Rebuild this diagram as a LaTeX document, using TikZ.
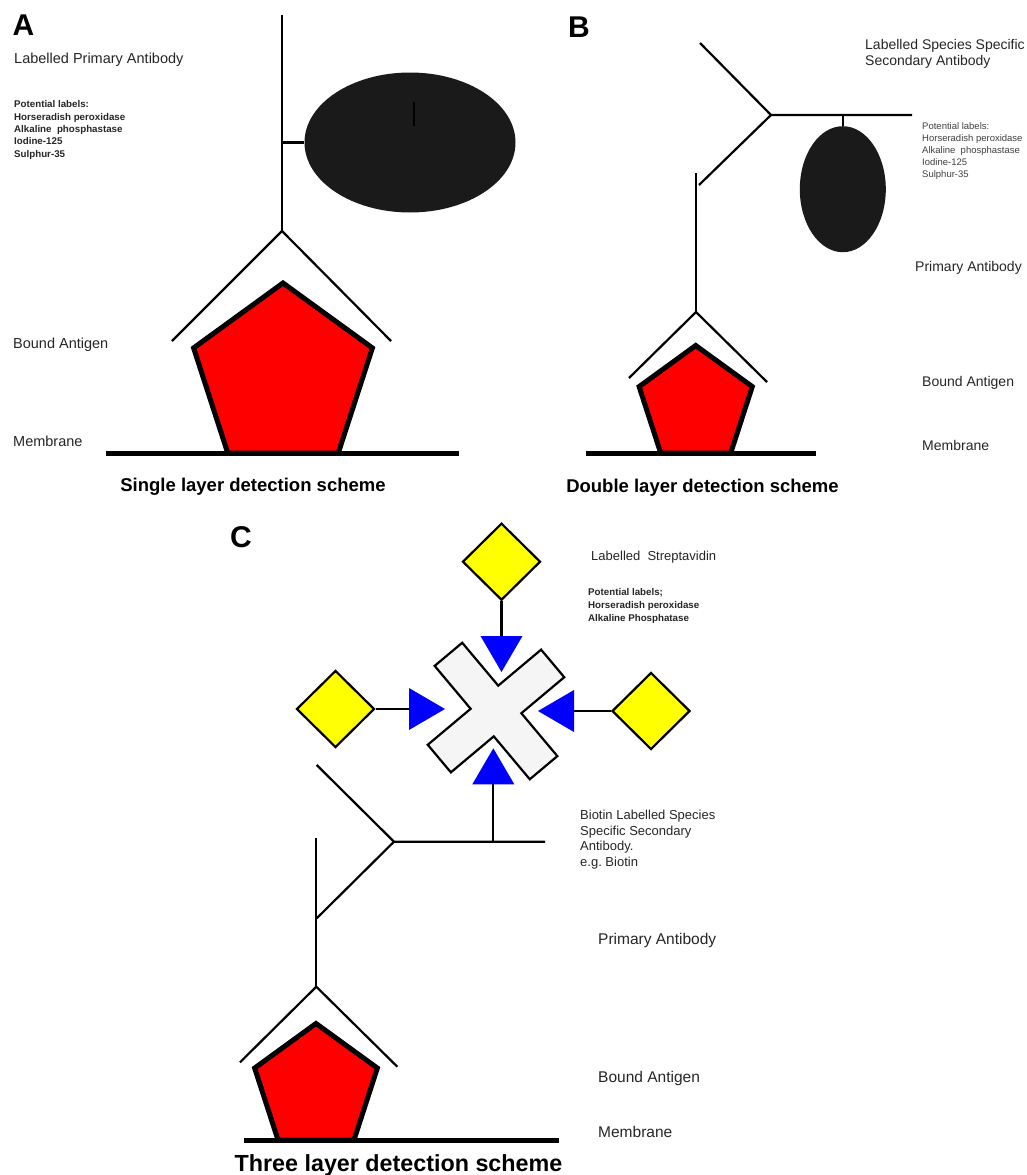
\documentclass[tikz,border=0pt]{standalone}
\usepackage{fontspec}
\setmainfont{Liberation Sans}
\usepackage{tikz}
\usetikzlibrary{arrows.meta,shapes.geometric,calc}
\definecolor{enzyme}{HTML}{1A1A1A}
\definecolor{antigenred}{HTML}{FF0000}
\definecolor{tagyellow}{HTML}{FFFF00}
\definecolor{avidin}{HTML}{F5F5F5}
\newcommand{\fsz}[2]{\fontsize{#1}{#2}\selectfont}

\begin{document}
\begin{tikzpicture}[x=1pt,y=-1pt,
	ab/.style={line width=2.2pt},
	membrane/.style={line width=5pt},
	antigen/.style={regular polygon,regular polygon sides=5,draw,line width=5pt,fill=antigenred,inner sep=0pt},
	enz/.style={ellipse,fill=enzyme,inner sep=0pt},
	tag/.style={diamond,draw,line width=2.2pt,fill=tagyellow,inner sep=0pt,minimum width=78pt,minimum height=77pt},
	bind/.style={ab,-{Triangle[width=42pt,length=36pt,line width=0pt,color=blue,fill=blue]}},
	lbl/.style={anchor=base west,inner sep=0pt,text=black!85},
	multi/.style={anchor=north west,inner sep=0pt,align=left,text=black!85},
	panel/.style={anchor=base west,inner sep=0pt,font=\bfseries\fsz{30}{32}},
	scheme/.style={anchor=base,inner sep=0pt,font=\bfseries}]
	\fill[white] (0,0) rectangle (1027,1175);
	\useasboundingbox (0,0) rectangle (1027,1175);

	\node[panel] (pA) at (12.5,35) {A};
	\node[lbl,font=\fsz{14.5}{17}] (labA) at (14,63.5) {Labelled Primary Antibody};
	\node[multi,font=\bfseries\fsz{9.75}{12.4}] (potA) at (14,100.5) {Potential labels:\\Horseradish peroxidase\\Alkaline\ \ phosphastase\\Iodine-125\\Sulphur-35};
	\node[lbl,font=\fsz{14.5}{17}] (antA) at (13,348) {Bound Antigen};
	\node[lbl,font=\fsz{14.5}{17}] (memA) at (13,446) {Membrane};
	\node[scheme,font=\bfseries\fsz{18.5}{20}] (capA) at (253,491.7) {Single layer detection scheme};
	\node[antigen,minimum size=188pt] (agA) at (283,377) {};
	\draw[membrane] (106,453) -- (459,453);
	\node[enz,minimum width=211pt,minimum height=140pt] (enzA) at (410,142.5) {};
	\coordinate (topA) at (282,15);
	\coordinate (hingeA) at (282,231);
	\coordinate (armAl) at (172,341);
	\coordinate (armAr) at (391,341);
	\draw[ab] (topA) -- (hingeA);
	\draw[ab] (armAl) -- (hingeA) -- (armAr);
	\draw[ab] (topA |- enzA.west) -- (enzA.west);
	\draw[ab] (414,102) -- (414,126);

	\node[panel] (pB) at (568,37) {B};
	\node[multi,font=\fsz{14}{16.5}] (labB) at (865,38.8) {Labelled Species Specific\\Secondary Antibody};
	\node[multi,font=\fsz{9.5}{12},text=black!75] (potB) at (922,122.2) {Potential labels:\\Horseradish peroxidase\\Alkaline\ \ phosphastase\\Iodine-125\\Sulphur-35};
	\node[lbl,font=\fsz{14}{16}] (priB) at (915,271.7) {Primary Antibody};
	\node[lbl,font=\fsz{14}{16}] (antB) at (922,386) {Bound Antigen};
	\node[lbl,font=\fsz{14}{16}] (memB) at (922,450) {Membrane};
	\node[scheme,font=\bfseries\fsz{18.5}{20}] (capB) at (702.5,492) {Double layer detection scheme};
	\node[antigen,minimum size=119pt] (agB) at (695.7,405) {};
	\draw[membrane] (586,453) -- (816,453);
	\node[enz,minimum width=86pt,minimum height=126pt] (enzB) at (842.8,189.2) {};
	\coordinate (tipB) at (700,43);
	\coordinate (forkB) at (771,115);
	\coordinate (endB) at (912,115);
	\coordinate (armB) at (699,185);
	\coordinate (stemB) at (696,173);
	\coordinate (hingeB) at (696,312);
	\coordinate (armBl) at (629,378);
	\coordinate (armBr) at (767,382);
	\draw[ab] (tipB) -- (forkB) -- (endB);
	\draw[ab] (forkB) -- (armB);
	\draw[ab] (stemB) -- (hingeB);
	\draw[ab] (armBl) -- (hingeB) -- (armBr);
	\draw[ab] (enzB.north |- forkB) -- (enzB.north);

	\node[panel] (pC) at (230,547) {C};
	\node[lbl,font=\fsz{13}{15}] (labC) at (591,560) {Labelled\ \ Streptavidin};
	\node[multi,font=\bfseries\fsz{9.75}{13}] (potC) at (588,588) {Potential labels;\\Horseradish peroxidase\\Alkaline Phosphatase};
	\node[multi,font=\fsz{13}{15.6}] (bioC) at (580,809.8) {Biotin Labelled Species\\Specific Secondary\\Antibody.\\e.g.\ Biotin};
	\node[lbl,font=\fsz{15.5}{18}] (priC) at (598,944) {Primary Antibody};
	\node[lbl,font=\fsz{15.5}{18}] (antC) at (598,1082) {Bound Antigen};
	\node[lbl,font=\fsz{15.5}{18}] (memC) at (598,1137.3) {Membrane};
	\node[scheme,font=\bfseries\fsz{23.3}{25}] (capC) at (398.5,1171.7) {Three layer detection scheme};
	\node[antigen,minimum size=129pt] (agC) at (316,1088) {};
	\draw[membrane] (244,1140) -- (559,1140);

	\begin{scope}[shift={(496,711)},rotate=40]
		\draw[line width=2.2pt,fill=avidin] (18,18) -- (74,18) -- (74,-18) -- (18,-18) -- (18,-74) -- (-18,-74) -- (-18,-18) -- (-74,-18) -- (-74,18) -- (-18,18) -- (-18,74) -- (18,74) -- cycle;
	\end{scope}
	\node[tag] (tagN) at (501.5,561.7) {};
	\node[tag] (tagW) at (335.5,709) {};
	\node[tag] (tagE) at (651,711) {};
	\coordinate (ptN) at (501.5,672);
	\coordinate (ptW) at (445,709);
	\coordinate (ptE) at (538,711);
	\coordinate (ptS) at (493.3,748.3);
	\draw[bind] (tagN.south) -- (ptN);
	\draw[bind] (tagW.east) -- (ptW);
	\draw[bind] (tagE.west) -- (ptE);

	\coordinate (tipC) at (316.7,765);
	\coordinate (forkC) at (394,841.7);
	\coordinate (endC) at (545,841.7);
	\coordinate (armC) at (316.7,918.3);
	\coordinate (biotC) at (493.3,841.7);
	\coordinate (stemC) at (316.3,837.7);
	\coordinate (hingeC) at (316.3,986.7);
	\coordinate (armCl) at (240,1062.3);
	\coordinate (armCr) at (397.3,1066.7);
	\draw[ab] (tipC) -- (forkC) -- (endC);
	\draw[ab] (forkC) -- (armC);
	\draw[bind] (biotC) -- (ptS);
	\draw[ab] (stemC) -- (hingeC);
	\draw[ab] (armCl) -- (hingeC) -- (armCr);
\end{tikzpicture}
\end{document}
